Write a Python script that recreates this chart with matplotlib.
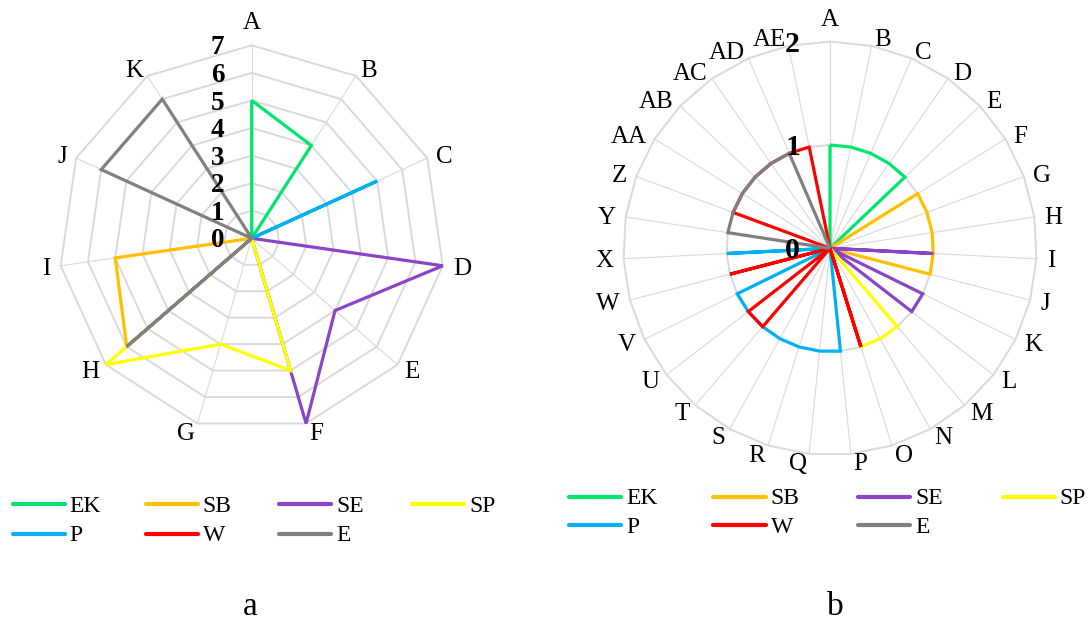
import numpy as np
import matplotlib
matplotlib.use("Agg")
import matplotlib.pyplot as plt
from matplotlib.lines import Line2D
from matplotlib.transforms import offset_copy

plt.rcParams['font.family'] = ['Liberation Serif', 'DejaVu Serif']

# ---------------- data ----------------
series_names = ["EK", "SB", "SE", "SP", "P", "W", "E"]
series_colors = ["#00E56E", "#FFC000", "#8A45C6", "#FFFF00", "#00B0F0", "#FF0000", "#808080"]

# chart a
cats_a = ["A", "B", "C", "D", "E", "F", "G", "H", "I", "J", "K"]
ticks_a = [0, 1, 2, 3, 4, 5, 6, 7]
EK_a = [5, 4, 0, 0, 0, 0, 0, 0, 0, 0, 0]
SB_a = [0, 0, 0, 0, 0, 0, 0, 6, 5, 0, 0]
SE_a = [0, 0, 0, 7, 4, 7, 0, 0, 0, 0, 0]
SP_a = [0, 0, 0, 0, 0, 5, 4, 7, 0, 0, 0]
P_a = [0, 0, 5, 0, 0, 0, 0, 0, 0, 0, 0]
W_a = [0, 0, 0, 0, 0, 0, 0, 0, 0, 0, 0]
E_a = [0, 0, 0, 0, 0, 0, 0, 6, 0, 6, 6]

# chart b
cats_b = ["A", "B", "C", "D", "E", "F", "G", "H", "I", "J", "K", "L", "M", "N", "O", "P",
          "Q", "R", "S", "T", "U", "V", "W", "X", "Y", "Z", "AA", "AB", "AC", "AD", "AE"]
ticks_b = [0, 1, 2]
#       A  B  C  D  E  F  G  H  I  J  K  L  M  N  O  P  Q  R  S  T  U  V  W  X  Y  Z AA AB AC AD AE
EK_b = [1, 1, 1, 1, 1, 0, 0, 0, 0, 0, 0, 0, 0, 0, 0, 0, 0, 0, 0, 0, 0, 0, 0, 0, 0, 0, 0, 0, 0, 0, 0]
SB_b = [0, 0, 0, 0, 0, 1, 1, 1, 1, 1, 0, 0, 0, 0, 0, 0, 0, 0, 0, 0, 0, 0, 0, 0, 0, 0, 0, 0, 0, 0, 0]
SE_b = [0, 0, 0, 0, 0, 0, 0, 0, 1, 0, 1, 1, 0, 0, 0, 0, 0, 0, 0, 0, 0, 0, 0, 0, 0, 0, 0, 0, 0, 0, 0]
SP_b = [0, 0, 0, 0, 0, 0, 0, 0, 0, 0, 0, 0, 1, 1, 1, 0, 0, 0, 0, 0, 0, 0, 0, 0, 0, 0, 0, 0, 0, 0, 0]
P_b = [0, 0, 0, 0, 0, 0, 0, 0, 0, 0, 0, 0, 0, 0, 0, 1, 1, 1, 1, 1, 1, 1, 0, 1, 0, 0, 0, 0, 0, 0, 0]
W_b = [0, 0, 0, 0, 0, 0, 0, 0, 0, 0, 0, 0, 0, 0, 1, 0, 0, 0, 0, 1, 1, 0, 1, 0, 0, 1, 1, 1, 1, 1, 1]
E_b = [0, 0, 0, 0, 0, 0, 0, 0, 0, 0, 0, 0, 0, 0, 0, 0, 0, 0, 0, 0, 0, 0, 0, 0, 1, 1, 1, 1, 1, 1, 0]

panel_labels = ["a", "b"]

# ---------------- figure ----------------
W_PX, H_PX = 1091, 623
DPI = 100
fig = plt.figure(figsize=(W_PX / DPI, H_PX / DPI), dpi=DPI)
renderer = fig.canvas.get_renderer()


def px_rect(cx, cy, r):
    return [(cx - r) / W_PX, 1 - (cy + r) / H_PX, 2 * r / W_PX, 2 * r / H_PX]


GRID = "#D9D9D9"
CAT_FS = 18
LEG_FS = 17


def pt2px(pt):
    return pt * DPI / 72.0


def radar(ax, cats, ticks, data, tick_fs, tick_dx):
    n = len(cats)
    rmax = ticks[-1]
    theta = np.array([2 * np.pi * i / n for i in range(n)])
    th_closed = np.append(theta, theta[0])
    ax.set_theta_zero_location("N")
    ax.set_theta_direction(-1)
    ax.set_ylim(0, rmax)
    ax.axis("off")
    # polygon rings
    for t in ticks[1:]:
        ax.plot(th_closed, [t] * (n + 1), color=GRID, lw=1.4, zorder=1, clip_on=False)
    # spokes
    for th in theta:
        ax.plot([th, th], [0, rmax], color=GRID, lw=0.8, zorder=1, clip_on=False)
    # series
    for k, (vals, col) in enumerate(zip(data, series_colors)):
        v = list(vals) + [vals[0]]
        ax.plot(th_closed, v, color=col, lw=2.3, zorder=3 + k, clip_on=False,
                solid_joinstyle="miter", solid_capstyle="butt")
    # radial (value) labels, left of the first spoke
    digit_h = 0.676 * pt2px(tick_fs)
    tr = offset_copy(ax.transData, fig=fig, x=tick_dx, y=-digit_h / 2, units="dots")
    for t in ticks:
        ax.text(0, t, str(t), transform=tr, ha="right", va="baseline",
                fontsize=tick_fs, fontweight="bold", zorder=20)
    # category labels anchored at the outer ring vertex
    cap_h = 0.66 * pt2px(CAT_FS)
    for th, c in zip(theta, cats):
        t = ax.text(th, rmax, c, ha="center", va="baseline", fontsize=CAT_FS, zorder=20)
        w = t.get_window_extent(renderer).width
        s, co = np.sin(th), np.cos(th)
        if abs(s) < 0.02:
            dx = 0.0
            dy = 16.0 if co > 0 else -(cap_h + 3)
        else:
            pad = 2.0 + 8.5 * s * s
            dx = np.sign(s) * (w / 2 + pad)
            dy = co * cap_h / 2 - cap_h / 2
        t.set_transform(offset_copy(ax.transData, fig=fig, x=dx, y=dy, units="dots"))


ax1 = fig.add_axes(px_rect(251.7, 238.3, 193.0), projection="polar")
radar(ax1, cats_a, ticks_a, [EK_a, SB_a, SE_a, SP_a, P_a, W_a, E_a], 19.5, -27.5)

ax2 = fig.add_axes(px_rect(830.0, 248.3, 206.7), projection="polar")
radar(ax2, cats_b, ticks_b, [EK_b, SB_b, SE_b, SP_b, P_b, W_b, E_b], 21.5, -30)


# ---------------- legends ----------------
def legend(x0, rows_y, col_dx, line_len, text_gap):
    cap_h = 0.66 * pt2px(LEG_FS)
    for i, (name, col) in enumerate(zip(series_names, series_colors)):
        row, c = divmod(i, 4)
        x = x0 + c * col_dx
        y = rows_y[row]
        fig.add_artist(Line2D([x / W_PX, (x + line_len) / W_PX], [1 - y / H_PX] * 2,
                              color=col, lw=3.0, solid_capstyle="round",
                              transform=fig.transFigure))
        fig.text((x + line_len + text_gap) / W_PX, 1 - (y + cap_h / 2) / H_PX, name,
                 ha="left", va="baseline", fontsize=LEG_FS)


legend(12.5, [504.0, 533.5], 133.3, 52, 5.0)
legend(569.0, [496.7, 525.0], 144.5, 52, 5.0)

fig.text(250.0 / W_PX, 1 - 615.0 / H_PX, panel_labels[0], ha="center", va="baseline", fontsize=24)
fig.text(835.5 / W_PX, 1 - 615.0 / H_PX, panel_labels[1], ha="center", va="baseline", fontsize=24)

fig.savefig("out.png", dpi=DPI)
